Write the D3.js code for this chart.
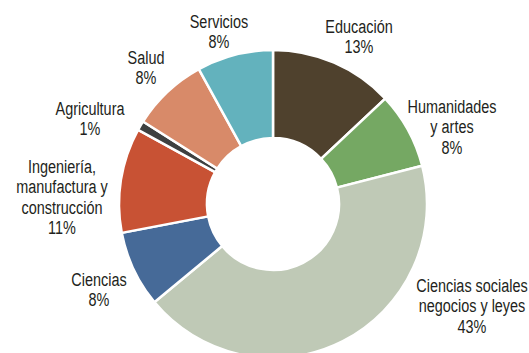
<!DOCTYPE html>
<html>
<head>
<meta charset="utf-8">
<script src="https://cdn.jsdelivr.net/npm/d3@7/dist/d3.min.js"></script>
<style>
  html, body { margin: 0; padding: 0; background: #ffffff; }
  svg { display: block; }
  text { font-family: "Liberation Sans", Arial, sans-serif; font-size: 19px; fill: #231f20; }
</style>
</head>
<body>
<svg id="chart" width="529" height="353"></svg>
<script>
// Fields of study and their share of graduates (%), clockwise from 12 o'clock
const categories = [
  "Educación",
  "Humanidades y artes",
  "Ciencias sociales negocios y leyes",
  "Ciencias",
  "Ingeniería, manufactura y construcción",
  "Agricultura",
  "Salud",
  "Servicios"
];
const shares = [13, 8, 43, 8, 11, 1, 8, 8];

// Label text broken into lines
const labelLines = [
  ["Educación"],
  ["Humanidades", "y artes"],
  ["Ciencias sociales", "negocios y leyes"],
  ["Ciencias"],
  ["Ingeniería,", "manufactura y", "construcción"],
  ["Agricultura"],
  ["Salud"],
  ["Servicios"]
];

const palette = ["#4f412d", "#75a863", "#bfc9b6", "#466a98", "#c85234", "#3e4040", "#d88a69", "#63b2bd"];

// Layout
const cx = 273, cy = 204, outerR = 154, innerR = 66, lineH = 20.5;
const narrow = 0.76; // horizontal squeeze for a condensed look
// Label anchor (x centre, first baseline) for each category
const labelAnchor = [
  [359, 33], [452, 113], [472, 292], [99, 286],
  [62, 173], [90, 115], [146, 64], [219, 28]
];

const data = categories.map((c, i) => ({ name: c, value: shares[i], lines: labelLines[i] }));

const svg = d3.select("#chart");
const g = svg.append("g").attr("transform", `translate(${cx},${cy})`);

const color = d3.scaleOrdinal().domain(categories).range(palette);

const pie = d3.pie().value(d => d.value).sort(null);
const arc = d3.arc().innerRadius(innerR).outerRadius(outerR);

g.selectAll("path.slice")
  .data(pie(data))
  .join("path")
  .attr("class", "slice")
  .attr("d", arc)
  .attr("fill", d => color(d.data.name))
  .attr("stroke", "#ffffff")
  .attr("stroke-width", 2.5)
  .attr("stroke-linejoin", "miter");

const labels = svg.selectAll("text.label")
  .data(data)
  .join("text")
  .attr("class", "label")
  .attr("text-anchor", "middle")
  .attr("transform", (d, i) => `translate(${labelAnchor[i][0]},${labelAnchor[i][1]}) scale(${narrow},1)`);

labels.each(function (d) {
  const t = d3.select(this);
  const lines = d.lines.concat([d.value + "%"]);
  lines.forEach((ln, k) => {
    t.append("tspan")
      .attr("x", 0)
      .attr("dy", k === 0 ? 0 : lineH)
      .text(ln);
  });
});
</script>
</body>
</html>
